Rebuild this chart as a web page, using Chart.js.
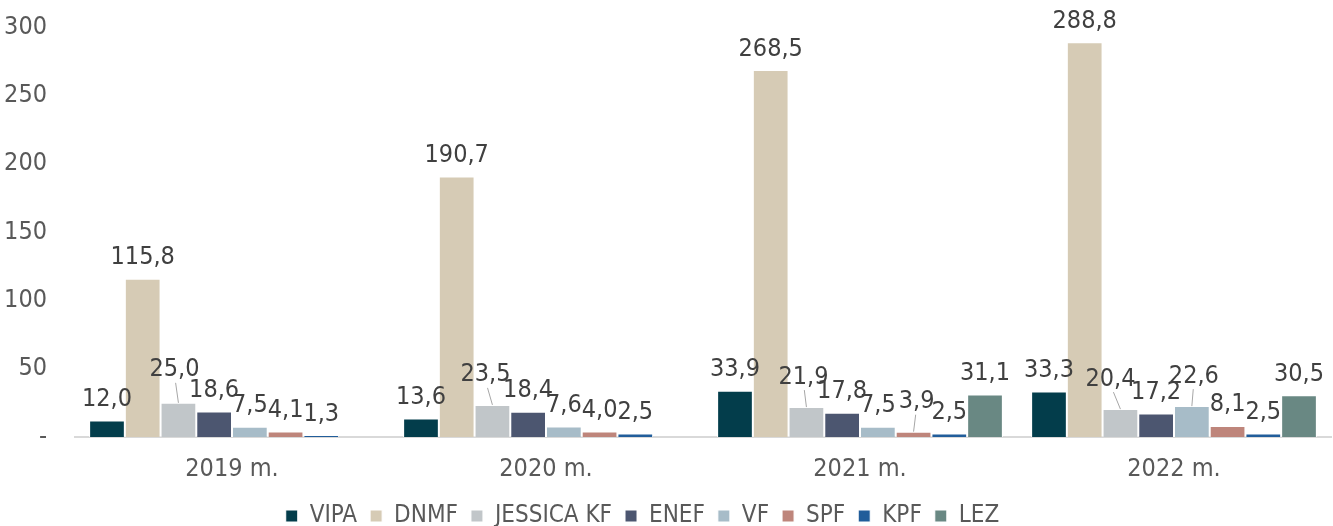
<!DOCTYPE html>
<html>
<head>
<meta charset="utf-8">
<script src="https://cdn.jsdelivr.net/npm/chart.js@4/dist/chart.umd.min.js"></script>
<style>
  html, body { margin: 0; padding: 0; background: #fff; }
  #wrap { width: 1333px; height: 526px; }
</style>
</head>
<body>
<div id="wrap"><canvas id="myChart"></canvas></div>
<script>
const categories = ['2019 m.', '2020 m.', '2021 m.', '2022 m.'];
const seriesNames = ['VIPA', 'DNMF', 'JESSICA KF', 'ENEF', 'VF', 'SPF', 'KPF', 'LEZ'];
const vipa = [12.0, 13.6, 33.9, 33.3];
const dnmf = [115.8, 190.7, 268.5, 288.8];
const jessica = [25.0, 23.5, 21.9, 20.4];
const enef = [18.6, 18.4, 17.8, 17.2];
const vf = [7.5, 7.6, 7.5, 22.6];
const spf = [4.1, 4.0, 3.9, 8.1];
const kpf = [1.3, 2.5, 2.5, 2.5];
const lez = [null, null, 31.1, 30.5];
const yTicks = [0, 50, 100, 150, 200, 250, 300];

const colors = ['#033d4b', '#d6cbb5', '#c1c6c9', '#4c5670', '#a7bcc8', '#be857b', '#215d9a', '#698883'];
const values = [vipa, dnmf, jessica, enef, vf, spf, kpf, lez];
const FONT = '"Liberation Sans Narrow", "DejaVu Sans Condensed", sans-serif';

// labels that were pulled away from their bar, with a leader line: "dataset:index" -> [dx, dy]
const labelNudge = {
  '2:0': [-4, -12],
  '2:1': [-7, -9],
  '2:2': [-3, -9],
  '5:2': [3, -9],
  '2:3': [-10, -9],
  '4:3': [2, -9],
};

const fmt = v => v.toFixed(1).replace('.', ',');

const valueLabels = {
  id: 'valueLabels',
  afterDatasetsDraw(chart) {
    const ctx = chart.ctx;
    ctx.save();
    ctx.font = '25px ' + FONT;
    ctx.textAlign = 'center';
    ctx.textBaseline = 'middle';
    chart.data.datasets.forEach((ds, di) => {
      chart.getDatasetMeta(di).data.forEach((bar, i) => {
        const v = ds.data[i];
        if (v == null) return;
        const nudge = labelNudge[di + ':' + i] || [0, 0];
        const x = bar.x + nudge[0];
        const y = bar.y - 21 + nudge[1];
        if (labelNudge[di + ':' + i]) {
          ctx.strokeStyle = '#a6a6a6';
          ctx.lineWidth = 1;
          ctx.beginPath();
          ctx.moveTo(x + (bar.x - x) * 0.3, y + 13);
          ctx.lineTo(bar.x, bar.y);
          ctx.stroke();
        }
        ctx.fillStyle = '#404040';
        ctx.fillText(fmt(v), x, y);
      });
    });
    ctx.restore();
  }
};

// the original legend sits a little left of centre
const legendShift = {
  id: 'legendShift',
  afterLayout(chart) {
    chart.legend.left -= 23;
    chart.legend.right -= 23;
  }
};

new Chart(document.getElementById('myChart').getContext('2d'), {
  type: 'bar',
  data: {
    labels: categories,
    datasets: seriesNames.map((name, k) => ({
      label: name,
      data: values[k],
      backgroundColor: colors[k],
      borderColor: '#ffffff',
      borderWidth: 1,
      categoryPercentage: 0.91,
      barPercentage: 1,
    })),
  },
  options: {
    responsive: true,
    maintainAspectRatio: false,
    animation: false,
    layout: { padding: { left: 0, right: 2, top: 0, bottom: -12 } },
    plugins: {
      legend: {
        position: 'bottom',
        labels: {
          boxWidth: 12,
          boxHeight: 12,
          padding: 13,
          color: '#595959',
          font: { family: FONT, size: 24 },
        },
      },
      tooltip: { enabled: false },
    },
    scales: {
      x: {
        grid: { display: false, drawTicks: false },
        border: { display: true, color: '#d9d9d9', width: 2 },
        ticks: { color: '#595959', padding: 17, font: { family: FONT, size: 25 } },
        afterFit: axis => { axis.height = 54; },
      },
      y: {
        min: 0,
        max: 300,
        afterBuildTicks: axis => { axis.ticks = yTicks.map(v => ({ value: v })); },
        afterFit: axis => {
          axis.width = 75;
          axis.paddingTop = 27;
          axis.paddingBottom = 0;
        },
        grid: { display: false, drawTicks: false },
        border: { display: false },
        ticks: {
          color: '#595959',
          padding: 28,
          font: { family: FONT, size: 25 },
          callback: v => (v === 0 ? '-' : v),
        },
      },
    },
  },
  plugins: [valueLabels, legendShift],
});
</script>
</body>
</html>
